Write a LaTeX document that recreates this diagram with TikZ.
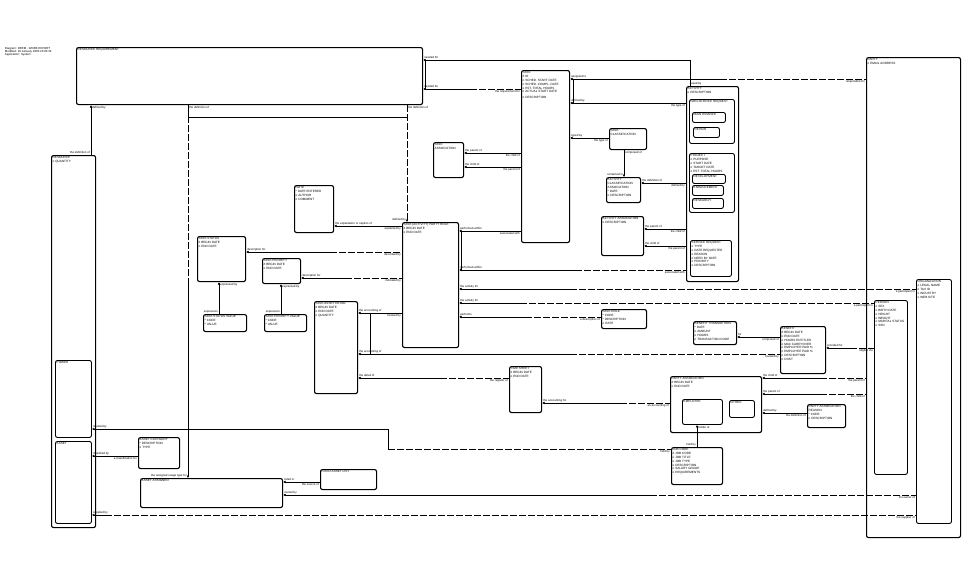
\documentclass[tikz,border=0pt]{standalone}
\usepackage{fontspec}
\setmainfont{Liberation Sans}
\usetikzlibrary{arrows.meta}
\newcommand{\entfont}{\fontsize{3.1}{3.8}\selectfont}
\newcommand{\relfont}{\fontsize{2.9}{3.3}\selectfont}
\begin{document}
\begin{tikzpicture}[x=1pt, y=-1pt,
        ent/.style = {draw, line width=1.1pt, rounded corners=2pt, inner sep=0pt, anchor=north west},
        sub/.style = {ent, line width=0.9pt},
        ttl/.style = {font=\entfont, align=left, anchor=north west, inner sep=1.5pt},
        rel/.style = {draw, line width=0.8pt, {Latex[length=2.4pt,width=2.6pt]}-},
        opt/.style = {draw, line width=0.8pt, dash pattern=on 7pt off 2pt},
        bar/.style = {draw, line width=0.8pt},
        lab/.style = {font=\relfont, inner sep=0.8pt},
    ]
    \fill[white] (0,0) rectangle (970,582);
    \useasboundingbox (0,0) rectangle (970,582);

    \node (hdr) [lab, align=left, anchor=north west] at (4,46) {Diagram: DRFM - WORK EFFORT\\Modified: 19 January 2005 23:03:33\\Application: System};

    % entities
    \node (rr) [ent, minimum width=346pt, minimum height=57pt, label={[ttl]north west:RESOURCE REQUIREMENT}] at (76,47) {};
    \node (res) [ent, minimum width=44pt, minimum height=372pt, label={[ttl]north west:{RESOURCE\\o QUANTITY}}] at (51,155) {};
    \node (power) [sub, minimum width=36pt, minimum height=77pt, label={[ttl]north west:POWER}] at (55,360) {};
    \node (asset) [sub, minimum width=36pt, minimum height=82pt, label={[ttl]north west:ASSET}] at (55,441) {};

    \node (task) [ent, minimum width=48pt, minimum height=172pt, label={[ttl]north west:{TASK\\\# ID\\o SCHED. START DATE\\o SCHED. COMPL. DATE\\o EST. TOTAL HOURS\\o ACTUAL START DATE\\[1.5pt]o DESCRIPTION}}] at (521,70) {};
    \node (act) [ent, minimum width=52pt, minimum height=195pt, label={[ttl]north west:{ACTIVITY\\o DESCRIPTION}}] at (686,86) {};
    \node (nsr) [sub, minimum width=45pt, minimum height=44pt, label={[ttl]north west:NON-SERVICE REQUEST}] at (689,99) {};
    \node (maint) [sub, minimum width=33pt, minimum height=10pt, label={[ttl]north west:MAINTENANCE}] at (692,112) {};
    \node (repair) [sub, minimum width=26pt, minimum height=10pt, label={[ttl]north west:REPAIR}] at (693,127) {};
    \node (proj) [sub, minimum width=45pt, minimum height=59pt, label={[ttl]north west:{PROJECT\\o PURPOSE\\o START DATE\\o TARGET DATE\\o EST. TOTAL HOURS}}] at (689,153) {};
    \node (dev) [sub, minimum width=33pt, minimum height=9pt, label={[ttl]north west:DEVELOPMENT}] at (692,174) {};
    \node (enh) [sub, minimum width=31pt, minimum height=10pt, label={[ttl]north west:ENHANCEMENT}] at (692,185) {};
    \node (resch) [sub, minimum width=31pt, minimum height=10pt, label={[ttl]north west:RESEARCH}] at (692,198) {};
    \node (sr) [sub, minimum width=41pt, minimum height=36pt, label={[ttl]north west:{SERVICE REQUEST\\o TYPE\\o DATE REQUESTED\\o REASON\\o NEED BY DATE\\o PRIORITY\\o DESCRIPTION}}] at (690,240) {};

    \node (tc) [ent, minimum width=37pt, minimum height=21pt, label={[ttl]north west:{TASK\\CLASSIFICATION}}] at (609,128) {};
    \node (aca) [ent, minimum width=34pt, minimum height=25pt, label={[ttl]north west:{ACTIVITY\\CLASSIFICATION\\ASSOCIATION\\* DATE\\o DESCRIPTION}}] at (606,177) {};
    \node (aa) [ent, minimum width=42pt, minimum height=39pt, label={[ttl]north west:{ACTIVITY ASSOCIATION\\o DESCRIPTION}}] at (601,216) {};
    \node (ta) [ent, minimum width=30pt, minimum height=35pt, label={[ttl]north west:{TASK\\ASSOCIATION}}] at (433,142) {};
    \node (note) [ent, minimum width=39pt, minimum height=47pt, label={[ttl]north west:{NOTE\\* DATE ENTERED\\o AUTHOR\\o COMMENT}}] at (294,185) {};
    \node (tp) [ent, minimum width=56pt, minimum height=125pt, label={[ttl]north west:{TASK (ACTIVITY) PARTY ROLE\\\# BEGIN DATE\\o END DATE}}] at (402,222) {};
    \node (tst) [ent, minimum width=48pt, minimum height=45pt, label={[ttl]north west:{TASK STATUS\\\# BEGIN DATE\\o END DATE}}] at (197,236) {};
    \node (tpr) [ent, minimum width=38pt, minimum height=25pt, label={[ttl]north west:{TASK PRIORITY\\\# BEGIN DATE\\o END DATE}}] at (262,258) {};
    \node (tsv) [ent, minimum width=43pt, minimum height=17pt, label={[ttl]north west:{TASK STATUS VALUE\\* CODE\\* VALUE}}] at (203,314) {};
    \node (tpv) [ent, minimum width=42pt, minimum height=17pt, label={[ttl]north west:{TASK PRIORITY VALUE\\* CODE\\* VALUE}}] at (264,314) {};
    \node (tad) [ent, minimum width=43pt, minimum height=92pt, label={[ttl]north west:{TASK ASSET DETAIL\\\# BEGIN DATE\\o END DATE\\o QUANTITY}}] at (314,301) {};
    \node (trole) [ent, minimum width=45pt, minimum height=19pt, label={[ttl]north west:{TASK ROLE\\* CODE\\* DESCRIPTION\\o RATE}}] at (601,309) {};
    \node (ts) [ent, minimum width=32pt, minimum height=46pt, label={[ttl]north west:{TIME SHEET\\\# BEGIN DATE\\o END DATE}}] at (509,366) {};

    \node (bt) [ent, minimum width=43pt, minimum height=23pt, label={[ttl]north west:{BENEFIT TRANSACTION\\* DATE\\o AMOUNT\\o HOURS\\o TRANSACTION CODE}}] at (693,321) {};
    \node (ben) [ent, minimum width=45pt, minimum height=47pt, label={[ttl]north west:{BENEFIT\\\# BEGIN DATE\\o END DATE\\o HOURS ENTITLED\\o MAX CARRYOVER\\o EMPLOYER PAID \%\\o EMPLOYEE PAID \%\\o DESCRIPTION\\o COST}}] at (780,326) {};
    \node (party) [ent, minimum width=94pt, minimum height=480pt, label={[ttl]north west:{PARTY\\o EMAIL ADDRESS}}] at (866,57) {};
    \node (person) [sub, minimum width=33pt, minimum height=174pt, label={[ttl]north west:{PERSON\\o SEX\\o BIRTH DATE\\o HEIGHT\\o WEIGHT\\o MARITAL STATUS\\o SSN}}] at (874,300) {};
    \node (org) [sub, minimum width=35pt, minimum height=244pt, label={[ttl]north west:{ORGANIZATION\\o LEGAL NAME\\o TAX ID\\o INDUSTRY\\o WEB SITE}}] at (916,279) {};
    \node (pa) [ent, minimum width=91pt, minimum height=56pt, label={[ttl]north west:{PARTY ASSOCIATION\\\# BEGIN DATE\\o END DATE}}] at (670,376) {};
    \node (emp) [sub, minimum width=40pt, minimum height=25pt, label={[ttl]north west:EMPLOYEE}] at (682,399) {};
    \node (other) [sub, minimum width=25pt, minimum height=17pt, label={[ttl]north west:OTHER}] at (729,400) {};
    \node (par) [ent, minimum width=38pt, minimum height=23pt, label={[ttl]north west:{PARTY ASSOCIATION\\REASON\\* CODE\\o DESCRIPTION}}] at (807,404) {};
    \node (jc) [ent, minimum width=51pt, minimum height=37pt, label={[ttl]north west:{JOB CODE\\\# JOB CODE\\o JOB TITLE\\o JOB TYPE\\o DESCRIPTION\\o SALARY GRADE\\o REQUIREMENTS}}] at (671,447) {};

    \node (acat) [ent, minimum width=41pt, minimum height=31pt, label={[ttl]north west:{ASSET CATEGORY\\* DESCRIPTION\\o TYPE}}] at (138,437) {};
    \node (aas) [ent, minimum width=142pt, minimum height=29pt, label={[ttl]north west:ASSET ASSIGNED}] at (140,478) {};
    \node (fal) [ent, minimum width=56pt, minimum height=20pt, label={[ttl]north west:FIXED ASSET LIST}] at (320,469) {};

    % resource requirement
    \coordinate (j1) at (188,117);
    \coordinate (j2) at (407,117);
    \draw[rel] (rr.south -| 91,0) -- node[lab, at start, anchor=north west]{defined by} node[lab, at end, anchor=south east]{the definition of} (res.north -| 91,0);
    \draw[rel] (aas.north -| j1) -- node[lab, at start, anchor=south east]{the assigned usage type for} (188,285);
    \draw[opt] (188,285) -- (j1);
    \draw[bar] (j1) -- node[lab, at end, anchor=north west]{the definition of} (rr.south -| j1);
    \draw[bar] (j1) -- (j2);
    \draw[opt, {Latex[length=2.4pt,width=2.6pt]}-] (tp.north -| j2) -- node[lab, at start, anchor=south east]{defined by} node[lab, at end, anchor=north west]{the definition of} (rr.south -| j2);
    \draw[rel] (rr.east |- 0,60) -- node[lab, at start, anchor=south west]{needed for} (690,60) -- node[lab, at end, anchor=south west]{used by} (act.north -| 690,0);
    \draw[rel] (rr.east |- 0,89) -- node[lab, at start, anchor=south west]{needed for} (470,89);
    \draw[opt] (470,89) -- node[lab, at end, anchor=north east]{the requirement for} (task.west |- 0,89);
    \draw[bar] (rr.east |- 0,60) ++(2,0) -- ++(0,29);

    % task
    \draw[rel] (task.east |- 0,79) -- node[lab, at start, anchor=south west]{assigned to} (720,79);
    \draw[opt] (720,79) -- node[lab, at end, anchor=north east]{responsible for} (party.west |- 0,79);
    \draw[rel] (task.east |- 0,103) -- node[lab, at start, anchor=south west]{defined by} node[lab, at end, anchor=north east]{the type of} (act.west |- 0,103);
    \draw[bar] (task.east |- 0,79) ++(3,0) -- ++(0,24);
    \draw[rel] (task.east |- 0,138) -- node[lab, at start, anchor=south west]{typed by} node[lab, at end, anchor=north east]{the type of} (tc.west |- 0,138);
    \draw[rel] (aca.north -| 624,0) -- node[lab, at start, anchor=south east]{contained in} node[lab, at end, anchor=north west]{composed of} (tc.south -| 624,0);
    \draw[rel] (aca.east |- 0,183) -- node[lab, at start, anchor=south west]{the definition of} node[lab, at end, anchor=north east]{defined by} (act.west |- 0,183);
    \draw[rel] (aa.east |- 0,229) -- node[lab, at start, anchor=south west]{the parent of} node[lab, at end, anchor=north east]{the child of} (act.west |- 0,229);
    \draw[rel] (aa.east |- 0,246) -- node[lab, at start, anchor=south west]{the child of} node[lab, at end, anchor=north east]{the parent of} (act.west |- 0,246);
    \draw[rel] (ta.east |- 0,153) -- node[lab, at start, anchor=south west]{the parent of} node[lab, at end, anchor=north east]{the child of} (task.west |- 0,153);
    \draw[rel] (ta.east |- 0,167) -- node[lab, at start, anchor=south west]{the child of} node[lab, at end, anchor=north east]{the parent of} (task.west |- 0,167);

    % task party role
    \draw[rel] (tp.east |- 0,231) -- node[lab, at start, anchor=south west]{performed within} node[lab, at end, anchor=north east]{associated with} (task.west |- 0,231);
    \draw[rel] (tp.east |- 0,270) -- node[lab, at start, anchor=south west]{performed within} (575,270);
    \draw[opt] (575,270) -- node[lab, at end, anchor=north east]{associated with} (act.west |- 0,270);
    \draw[bar] (tp.east |- 0,231) ++(2,0) -- ++(0,39);
    \draw[rel] (tp.east |- 0,289) -- node[lab, at start, anchor=south west]{the activity for} (570,289);
    \draw[opt] (570,289) -- node[lab, at end, anchor=north east]{a participant in} (org.west |- 0,289);
    \draw[rel] (tp.east |- 0,303) -- node[lab, at start, anchor=south west]{the activity for} (520,303);
    \draw[opt] (520,303) -- node[lab, at end, anchor=north east]{a participant in} (person.west |- 0,303);
    \draw[rel] (tp.east |- 0,317) -- node[lab, at start, anchor=south west]{performs} (525,317);
    \draw[opt] (525,317) -- node[lab, at end, anchor=north east]{a description of} (trole.west |- 0,317);
    \draw[rel] (tst.east |- 0,252) -- node[lab, at start, anchor=south west]{description for} (330,252);
    \draw[opt] (330,252) -- node[lab, at end, anchor=north east]{described by} (tp.west |- 0,252);
    \draw[rel] (tpr.east |- 0,278) -- node[lab, at start, anchor=south west]{description for} (345,278);
    \draw[opt] (345,278) -- node[lab, at end, anchor=north east]{indicated by} (tp.west |- 0,278);
    \draw[rel] (note.east |- 0,226) -- node[lab, at start, anchor=south west]{the explanation or caption of} node[lab, at end, anchor=north east]{explained by} (tp.west |- 0,226);
    \draw[rel] (tst.south -| 219,0) -- node[lab, at start, anchor=north west]{expressed by} node[lab, at end, anchor=south east]{expression} (tsv.north -| 219,0);
    \draw[rel] (tpr.south -| 281,0) -- node[lab, at start, anchor=north west]{expressed by} node[lab, at end, anchor=south east]{expression} (tpv.north -| 281,0);

    % task asset detail and time sheet
    \draw[rel] (tad.east |- 0,313) -- node[lab, at start, anchor=south west]{the accounting of} node[lab, at end, anchor=north east]{tracked by} (tp.west |- 0,313);
    \draw[rel] (tad.east |- 0,354) -- node[lab, at start, anchor=south west]{the accounting of} (570,354);
    \draw[opt] (570,354) -- node[lab, at end, anchor=north east]{tracked by} (ben.west |- 0,354);
    \draw[bar] (tad.east |- 0,313) ++(12,0) -- ++(0,41);
    \draw[rel] (tad.east |- 0,378) -- node[lab, at start, anchor=south west]{the detail of} (440,378);
    \draw[opt] (440,378) -- node[lab, at end, anchor=north east]{the register of} (ts.west |- 0,378);
    \draw[rel] (ts.east |- 0,403) -- node[lab, at start, anchor=south west]{the accounting for} (620,403);
    \draw[opt] (620,403) -- node[lab, at end, anchor=north east]{an accounting of} (pa.west |- 0,403);

    % benefit and party
    \draw[rel] (bt.east |- 0,337) -- node[lab, at start, anchor=south west]{for} node[lab, at end, anchor=north east]{composed of} (ben.west |- 0,337);
    \draw[rel] (ben.east |- 0,348) -- node[lab, at start, anchor=south west]{provided for} (850,348);
    \draw[opt] (850,348) -- node[lab, at end, anchor=north east]{eligible via} (person.west |- 0,348);
    \draw[rel] (pa.east |- 0,378) -- node[lab, at start, anchor=south west]{the child of} (820,378);
    \draw[opt] (820,378) -- node[lab, at end, anchor=north east]{the parent of} (party.west |- 0,378);
    \draw[rel] (pa.east |- 0,394) -- node[lab, at start, anchor=south west]{the parent of} (820,394);
    \draw[opt] (820,394) -- node[lab, at end, anchor=north east]{the child of} (party.west |- 0,394);
    \draw[rel] (pa.east |- 0,413) -- node[lab, at start, anchor=south west]{defined by} node[lab, at end, anchor=north east]{the definition of} (par.west |- 0,413);
    \draw[rel] (emp.south -| 697,0) -- node[lab, at start, anchor=north west]{holder of} node[lab, at end, anchor=south east]{held by} (jc.north -| 697,0);

    % resource subtypes
    \draw[rel] (power.east |- 0,429) -- node[lab, at start, anchor=south west]{needed by} (388,429) -- (388,449);
    \draw[opt] (388,449) -- node[lab, at end, anchor=north east]{held by} (jc.west |- 0,449);
    \draw[rel] (asset.east |- 0,456) -- node[lab, at start, anchor=south west]{classified by} node[lab, at end, anchor=north east]{a classification for} (acat.west |- 0,456);
    \draw[rel] (aas.east |- 0,482) -- node[lab, at start, anchor=south west]{listed in} node[lab, at end, anchor=north east]{the source of} (fal.west |- 0,482);
    \draw[rel] (aas.east |- 0,495) -- node[lab, at start, anchor=south west]{owned by} (650,495);
    \draw[opt] (650,495) -- node[lab, at end, anchor=north east]{the owner of} (org.west |- 0,495);
    \draw[rel] (asset.east |- 0,515) -- node[lab, at start, anchor=south west]{supplied by} (105,515);
    \draw[opt] (105,515) -- node[lab, at end, anchor=north east]{the supplier of} (org.west |- 0,515);
\end{tikzpicture}
\end{document}
